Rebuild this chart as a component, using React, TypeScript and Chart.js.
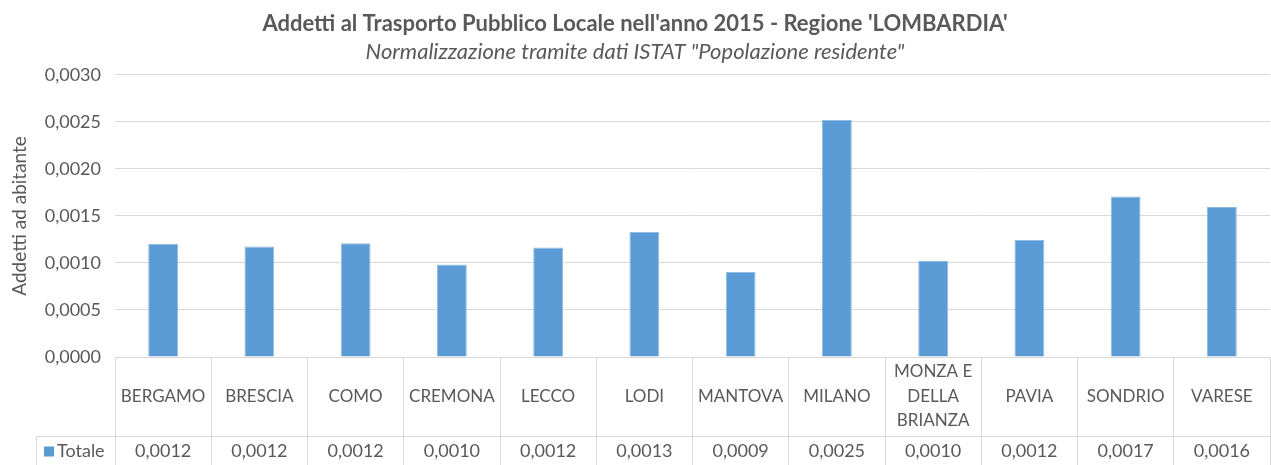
import React, { useEffect, useRef } from "react";
import { Chart, registerables } from "chart.js";

Chart.register(...registerables);

const categories: (string | string[])[] = [
  "BERGAMO",
  "BRESCIA",
  "COMO",
  "CREMONA",
  "LECCO",
  "LODI",
  "MANTOVA",
  "MILANO",
  ["MONZA E", "DELLA", "BRIANZA"],
  "PAVIA",
  "SONDRIO",
  "VARESE",
];
const totale: number[] = [
  0.0012, 0.001175, 0.00121, 0.000984, 0.001165, 0.00133, 0.000903, 0.00252,
  0.00102, 0.001243, 0.001707, 0.001594,
];
const seriesName = "Totale";
const titleText = "Addetti al Trasporto Pubblico Locale nell'anno 2015 - Regione 'LOMBARDIA'";
const subtitleText = 'Normalizzazione tramite dati ISTAT "Popolazione residente"';
const yAxisTitle = "Addetti ad abitante";

const FONT = "Lato";
const TEXT = "#595959";
const GRID = "#d9d9d9";
const BAR = "#5B9BD5";

const fmt = (v: number) => v.toFixed(4).replace(".", ",");

const tablePlugin = {
  id: "dataTable",
  afterDraw(chart: any) {
    const ctx = chart.ctx as CanvasRenderingContext2D;
    const x = chart.scales.x;
    const area = chart.chartArea;
    const bottom = chart.height;
    const rowSplit = area.bottom + 79;
    ctx.save();
    ctx.strokeStyle = GRID;
    ctx.lineWidth = 1;
    ctx.beginPath();
    ctx.moveTo(36, rowSplit + 0.5);
    ctx.lineTo(area.right, rowSplit + 0.5);
    ctx.stroke();
    ctx.beginPath();
    ctx.moveTo(36.5, rowSplit);
    ctx.lineTo(36.5, bottom);
    ctx.stroke();

    ctx.fillStyle = TEXT;
    ctx.font = `17px ${FONT}`;
    ctx.textAlign = "center";
    ctx.textBaseline = "middle";
    const labelMid = (area.bottom + rowSplit) / 2;
    const lh = 24.5;
    categories.forEach((c, i) => {
      const cx = x.getPixelForValue(i);
      const lines = Array.isArray(c) ? c : [c];
      const start = labelMid - ((lines.length - 1) * lh) / 2;
      lines.forEach((l, j) => ctx.fillText(l, cx, start + j * lh));
    });
    const valMid = (rowSplit + bottom) / 2 + 1;
    ctx.font = `18px ${FONT}`;
    totale.forEach((v, i) => {
      ctx.fillText(fmt(v), x.getPixelForValue(i), valMid);
    });
    ctx.fillStyle = BAR;
    ctx.fillRect(44, valMid - 5, 10, 10);
    ctx.fillStyle = TEXT;
    ctx.textAlign = "left";
    ctx.fillText(seriesName, 57, valMid);
    ctx.restore();
  },
};

export default function App() {
  const ref = useRef<HTMLCanvasElement | null>(null);
  useEffect(() => {
    if (!ref.current) return;
    const chart = new Chart(ref.current, {
      type: "bar",
      data: {
        labels: categories.map((c) => (Array.isArray(c) ? c.join(" ") : c)),
        datasets: [
          {
            label: seriesName,
            data: totale,
            backgroundColor: BAR,
            borderColor: "#8fbbe3",
            borderWidth: 1,
            barPercentage: 0.31,
            categoryPercentage: 1,
          },
        ],
      },
      options: {
        animation: false,
        responsive: false,
        maintainAspectRatio: false,
        layout: { padding: { left: 0, right: 1, top: 0, bottom: 0 } },
        plugins: {
          legend: { display: false },
          tooltip: { enabled: false },
          title: {
            display: true,
            text: titleText,
            color: TEXT,
            font: { family: FONT, size: 22, weight: "bold" },
            padding: { top: 11, bottom: 1 },
          },
          subtitle: {
            display: true,
            text: subtitleText,
            color: TEXT,
            font: { family: FONT, size: 22, style: "italic" },
            padding: { top: 0, bottom: 10 },
          },
        },
        scales: {
          x: {
            offset: true,
            grid: {
              display: true,
              drawOnChartArea: false,
              drawTicks: true,
              tickLength: 110,
              offset: true,
              color: GRID,
            },
            border: { display: true, color: GRID },
            ticks: { display: false },
            afterFit: (s: any) => {
              s.height = 108;
            },
          },
          y: {
            min: 0,
            max: 0.003,
            ticks: {
              stepSize: 0.0005,
              color: TEXT,
              padding: 14,
              font: { family: FONT, size: 18 },
              callback: (v: any) => fmt(Number(v)),
            },
            grid: { color: GRID, drawTicks: false },
            border: { display: false },
            title: {
              display: true,
              text: yAxisTitle,
              color: TEXT,
              font: { family: FONT, size: 19 },
              padding: { top: 8, bottom: 0 },
            },
            afterFit: (s: any) => {
              s.width = 115;
            },
          },
        },
      },
      plugins: [tablePlugin],
    });
    return () => chart.destroy();
  }, []);
  return (
    <div style={{ position: "absolute", left: 0, top: 0, width: 1271, height: 465, background: "#fff" }}>
      <canvas ref={ref} width={1271} height={465} style={{ display: "block" }} />
    </div>
  );
}
